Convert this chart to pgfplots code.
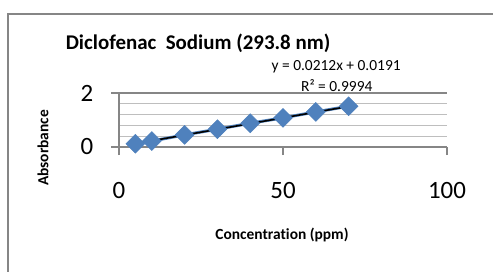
\documentclass[border=0pt]{standalone}
\usepackage{fontspec}
\setmainfont{Carlito}[Ligatures={NoCommon,NoRare}]
\usepackage{pgfplots}
\pgfplotsset{compat=1.18}
\definecolor{exblue}{RGB}{79,129,189}
\definecolor{frame}{RGB}{134,134,134}
\definecolor{majgrid}{RGB}{134,134,134}
\definecolor{mingrid}{RGB}{190,190,190}
\begin{document}
\begin{tikzpicture}[x=1bp,y=1bp]
\useasboundingbox (0,0) rectangle (493,271);
\fill[white] (0,0) rectangle (493,271);
\draw[frame, line width=2bp] (8,-2) -- (8,257) -- (495,257);
\begin{axis}[
  at={(119bp,124bp)}, anchor=south west,
  scale only axis, width=328bp, height=54bp,
  xmin=0, xmax=100, ymin=0, ymax=2,
  axis x line*=bottom, axis y line*=left,
  axis line style={majgrid, line width=1.2bp},
  xtick={0,50,100}, ytick={0,2},
  minor ytick={0.4,0.8,1.2,1.6},
  ymajorgrids, yminorgrids,
  major grid style={majgrid, line width=1.2bp},
  minor grid style={mingrid, line width=1.2bp},
  tick align=outside, major tick length=8bp, minor tick length=0pt,
  tick style={majgrid, line width=1.2bp},
  /pgf/number format/assume math mode=true,
  ticklabel style={font=\fontsize{25}{25}\selectfont},
  xticklabel style={anchor=center, yshift=-35bp},
  yticklabel style={anchor=center, xshift=-24bp},
  clip=false,
]
\addplot[color=exblue, line width=3bp, mark=square*, mark size=6.7bp,
  mark options={rotate=45, fill=exblue, draw=exblue, line width=0.5bp}]
  coordinates {(5,0.12) (10,0.22) (20,0.45) (30,0.66) (40,0.88) (50,1.08) (60,1.30) (70,1.51)};
\addplot[black, line width=1.6bp] coordinates {(5,0.1251) (70,1.5031)};
\node[font=\bfseries\fontsize{21}{21}\selectfont] at (axis description cs:0.241,1) [yshift=50bp] {Diclofenac\ \ Sodium (293.8 nm)};
\node[font=\fontsize{15.5}{15.5}\selectfont] at (axis description cs:0.662,1) [yshift=26bp] {y = 0.0212x + 0.0191};
\node[font=\fontsize{15.5}{15.5}\selectfont] at (axis description cs:0.664,1) [yshift=7bp] {R² = 0.9994};
\node[font=\bfseries\fontsize{15.5}{15.5}\selectfont] at (axis description cs:0.497,0) [yshift=-88bp] {Concentration (ppm)};
\node[font=\bfseries\fontsize{15.5}{15.5}\selectfont, rotate=90] at (axis description cs:-0.2317,-0.0185) {Absorbance};
\end{axis}
\end{tikzpicture}
\end{document}
